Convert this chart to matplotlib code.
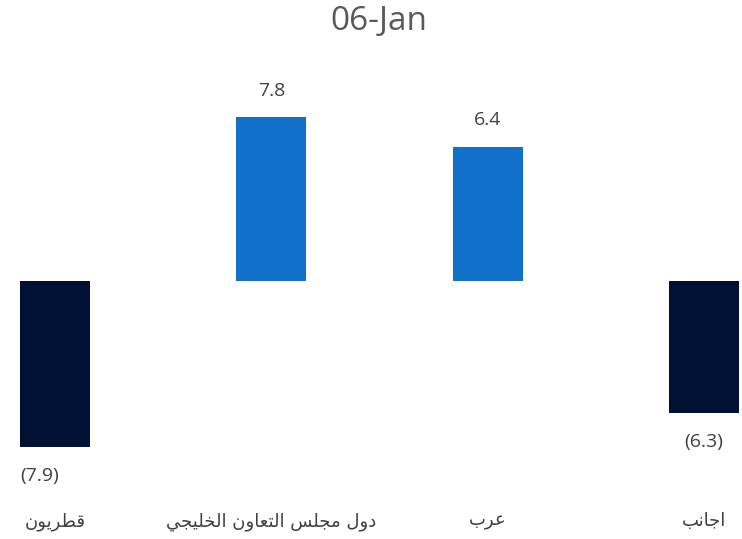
import matplotlib
matplotlib.use("Agg")
import matplotlib.pyplot as plt

title = "06-Jan"
categories = ["قطريون", "دول مجلس التعاون الخليجي", "عرب", "اجانب"]
values = [-7.9, 7.8, 6.4, -6.3]
value_labels = ["(7.9)", "7.8", "6.4", "(6.3)"]

# --- minimal Arabic shaping (matplotlib has no complex text layout) ---
FORMS = {
    'ا': (0xFE8D, 0xFE8E, None, None),
    'ب': (0xFE8F, 0xFE90, 0xFE91, 0xFE92),
    'ت': (0xFE95, 0xFE96, 0xFE97, 0xFE98),
    'ج': (0xFE9D, 0xFE9E, 0xFE9F, 0xFEA0),
    'خ': (0xFEA5, 0xFEA6, 0xFEA7, 0xFEA8),
    'د': (0xFEA9, 0xFEAA, None, None),
    'ر': (0xFEAD, 0xFEAE, None, None),
    'س': (0xFEB1, 0xFEB2, 0xFEB3, 0xFEB4),
    'ط': (0xFEC1, 0xFEC2, 0xFEC3, 0xFEC4),
    'ع': (0xFEC9, 0xFECA, 0xFECB, 0xFECC),
    'ق': (0xFED5, 0xFED6, 0xFED7, 0xFED8),
    'ل': (0xFEDD, 0xFEDE, 0xFEDF, 0xFEE0),
    'م': (0xFEE1, 0xFEE2, 0xFEE3, 0xFEE4),
    'ن': (0xFEE5, 0xFEE6, 0xFEE7, 0xFEE8),
    'و': (0xFEED, 0xFEEE, None, None),
    'ي': (0xFEF1, 0xFEF2, 0xFEF3, 0xFEF4),
}

def dual(c):
    return c in FORMS and FORMS[c][2] is not None

def shape(s):
    out = []
    for i, c in enumerate(s):
        if c not in FORMS:
            out.append(c)
            continue
        prev = s[i - 1] if i > 0 else ''
        nxt = s[i + 1] if i + 1 < len(s) else ''
        jp = dual(prev)
        jn = dual(c) and nxt in FORMS
        iso, fin, ini, med = FORMS[c]
        if jp and jn:
            g = med
        elif jp:
            g = fin
        elif jn:
            g = ini
        else:
            g = iso
        out.append(chr(g))
    return ''.join(out)[::-1]

W, H = 742, 539
fig = plt.figure(figsize=(W / 100, H / 100), dpi=100)
ax = fig.add_axes([20 / W, 1 - 470 / H, (739 - 20) / W, (470 - 92) / H])

colors = ["#001133" if v < 0 else "#1170C8" for v in values]
x = list(range(len(values)))
bw = 0.323
ax.bar(x, values, width=bw, color=colors)
ax.set_xlim(-bw / 2, len(values) - 1 + bw / 2)
ax.set_ylim(-9, 9)

# label alignment: the first label sits flush with its bar's left edge
label_ha = ["left", "center", "center", "center"]
for xi, v, lab, ha in zip(x, values, value_labels, label_ha):
    off = 19 if v > 0 else -21
    px = xi - bw / 2 if ha == "left" else xi
    ax.annotate(lab, (px, v), xytext=(0, off), textcoords="offset points",
                ha=ha, va="center", fontsize=14, color="#404040",
                family=["Open Sans", "DejaVu Sans"])

ax.set_xticks(x)
ax.set_xticklabels([shape(c) for c in categories], fontsize=13,
                   color="#404040", family=["DejaVu Sans"])
ax.tick_params(axis="x", length=0, pad=30.5)
ax.set_yticks([])
for sp in ax.spines.values():
    sp.set_visible(False)

fig.text(379 / W, 1 - 21 / H, title, ha="center", va="center", fontsize=24,
         color="#595959", family=["Open Sans", "DejaVu Sans"])

fig.savefig("out.png", dpi=100)
